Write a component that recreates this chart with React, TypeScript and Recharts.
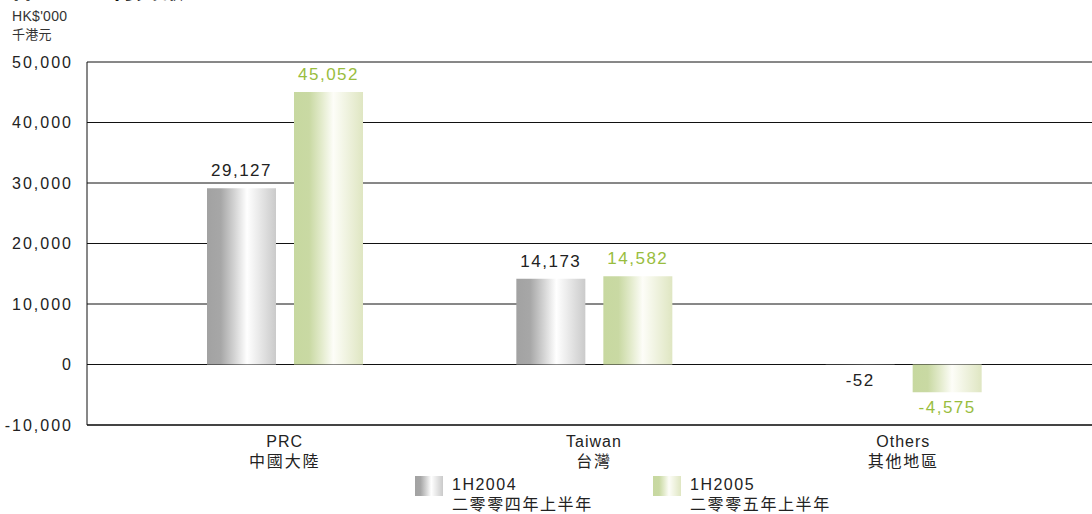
import React from 'react';
import { BarChart, Bar, XAxis, YAxis, CartesianGrid, LabelList } from 'recharts';

const categoriesEn = ['PRC', 'Taiwan', 'Others'];
const categoriesZh = ['中國大陸', '台灣', '其他地區'];
const values2004 = [29127, 14173, -52];
const values2005 = [45052, 14582, -4575];
const yTicks = [-10000, 0, 10000, 20000, 30000, 40000, 50000];
const seriesNamesEn = ['1H2004', '1H2005'];
const seriesNamesZh = ['二零零四年上半年', '二零零五年上半年'];

const data = categoriesEn.map((c, i) => ({
  name: c,
  zh: categoriesZh[i],
  a: values2004[i],
  b: values2005[i],
}));

const FONT = '"Liberation Sans", Arial, "Noto Sans CJK TC", sans-serif';
const CJK = '"Noto Sans CJK TC", sans-serif';
const GREEN_TEXT = '#99bd3e';

const fmt = (v: number) => {
  const s = Math.abs(v).toLocaleString('en-US');
  return v < 0 ? '-' + s : s;
};

const makeLabel = (color: string) => (props: any) => {
  const { x, y, width, height, value } = props;
  const top = Math.min(y, y + height);
  const bottom = Math.max(y, y + height);
  const ty = value >= 0 ? top - 12 : bottom + 21;
  return (
    <text
      x={x + width / 2}
      y={ty}
      textAnchor="middle"
      fill={color}
      fontSize={17}
      fontFamily={FONT}
      letterSpacing={1.5}
    >
      {fmt(value)}
    </text>
  );
};

const XTick = (props: any) => {
  const { x, y, payload, index } = props;
  return (
    <g>
      <text x={x} y={y + 14} textAnchor="middle" fill="#222" fontSize={16} fontFamily={FONT} letterSpacing={1}>
        {payload.value}
      </text>
      <text x={x} y={y + 34} textAnchor="middle" fill="#222" fontSize={16} fontFamily={CJK} letterSpacing={1.8}>
        {categoriesZh[index]}
      </text>
    </g>
  );
};

const GrayStops = () => (
  <>
    <stop offset="0%" stopColor="#a2a2a2" />
    <stop offset="20%" stopColor="#a7a7a7" />
    <stop offset="40%" stopColor="#d4d4d4" />
    <stop offset="58%" stopColor="#ffffff" />
    <stop offset="100%" stopColor="#cacaca" />
  </>
);

const GreenStops = () => (
  <>
    <stop offset="0%" stopColor="#c7d8a0" />
    <stop offset="22%" stopColor="#c9d9a3" />
    <stop offset="40%" stopColor="#e3ebcc" />
    <stop offset="57%" stopColor="#fdfdf8" />
    <stop offset="100%" stopColor="#dfe6c2" />
  </>
);

const Swatch = ({ id }: { id: string }) => (
  <svg width={28} height={20} style={{ display: 'block' }}>
    <rect x={0} y={0} width={28} height={20} fill={`url(#${id})`} />
  </svg>
);

export default function App() {
  return (
    <div style={{ position: 'absolute', left: 0, top: 0, width: 1092, height: 514, background: '#fff', overflow: 'hidden', fontFamily: FONT }}>
      <svg width={0} height={0} style={{ position: 'absolute' }}>
        <defs>
          <linearGradient id="gGrayL" x1="0" y1="0" x2="1" y2="0">
            <GrayStops />
          </linearGradient>
          <linearGradient id="gGreenL" x1="0" y1="0" x2="1" y2="0">
            <GreenStops />
          </linearGradient>
        </defs>
      </svg>
      <div style={{ position: 'absolute', left: 10, top: -29, fontSize: 24, fontWeight: 700, color: '#111', fontFamily: CJK, letterSpacing: 1, lineHeight: '34px' }}>
        各地區溢利貢獻
      </div>
      <div style={{ position: 'absolute', left: 12, top: 8, fontSize: 14, color: '#333', lineHeight: '17px', letterSpacing: 0.3 }}>
        HK$'000
        <br />
        <span style={{ fontFamily: CJK, fontSize: 13 }}>千港元</span>
      </div>
      <BarChart
        width={1092}
        height={514}
        data={data}
        margin={{ top: 62, right: 0, bottom: 49, left: 0 }}
        barSize={69}
        barGap={18}
      >
        <defs>
          <linearGradient id="gGray" x1="0" y1="0" x2="1" y2="0">
            <GrayStops />
          </linearGradient>
          <linearGradient id="gGreen" x1="0" y1="0" x2="1" y2="0">
            <GreenStops />
          </linearGradient>
        </defs>
        <CartesianGrid vertical={false} stroke="#111" strokeWidth={1} />
        <XAxis
          dataKey="name"
          height={40}
          padding={{ left: 43, right: 34 }}
          axisLine={{ stroke: '#444', strokeWidth: 2 }}
          tickLine={false}
          tick={<XTick />}
          interval={0}
        />
        <YAxis
          width={87}
          domain={[-10000, 50000]}
          ticks={yTicks}
          interval={0}
          axisLine={{ stroke: '#111', strokeWidth: 1 }}
          tickLine={false}
          tickFormatter={(v: number) => fmt(v)}
          tick={{ fill: '#222', fontSize: 16, fontFamily: FONT, letterSpacing: 2 }}
          tickMargin={8}
        />
        <Bar dataKey="a" fill="url(#gGray)" isAnimationActive={false}>
          <LabelList dataKey="a" content={makeLabel('#222')} />
        </Bar>
        <Bar dataKey="b" fill="url(#gGreen)" isAnimationActive={false}>
          <LabelList dataKey="b" content={makeLabel(GREEN_TEXT)} />
        </Bar>
      </BarChart>
      <div style={{ position: 'absolute', left: 415, top: 476, display: 'flex', alignItems: 'flex-start' }}>
        <Swatch id="gGrayL" />
        <div style={{ marginLeft: 9, marginTop: -1, color: '#222', fontSize: 16, lineHeight: '19px', letterSpacing: 1.5 }}>
          {seriesNamesEn[0]}
          <br />
          <span style={{ fontFamily: CJK, letterSpacing: 1.6 }}>{seriesNamesZh[0]}</span>
        </div>
      </div>
      <div style={{ position: 'absolute', left: 653, top: 476, display: 'flex', alignItems: 'flex-start' }}>
        <Swatch id="gGreenL" />
        <div style={{ marginLeft: 9, marginTop: -1, color: '#222', fontSize: 16, lineHeight: '19px', letterSpacing: 1.5 }}>
          {seriesNamesEn[1]}
          <br />
          <span style={{ fontFamily: CJK, letterSpacing: 1.6 }}>{seriesNamesZh[1]}</span>
        </div>
      </div>
    </div>
  );
}
